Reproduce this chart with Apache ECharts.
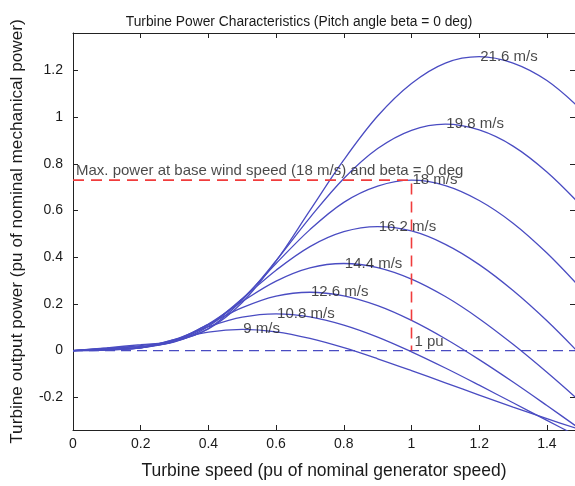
<!DOCTYPE html>
<html>
<head>
<meta charset="utf-8">
<script src="https://cdn.jsdelivr.net/npm/echarts@6/dist/echarts.min.js"></script>
<style>
html,body{margin:0;padding:0;background:#fff;}
#chart{width:575px;height:486px;}
</style>
</head>
<body>
<div id="chart"></div>
<script>
// Turbine speed (pu) sample points
var speeds = [0, 0.1, 0.2, 0.3, 0.4, 0.5, 0.6, 0.7, 0.8, 0.9, 1.0, 1.1, 1.2, 1.3, 1.4, 1.5];
// Turbine output power (pu) per wind speed
var p9    = [0, 0.0023, 0.0130, 0.0467, 0.0794, 0.0911, 0.0804, 0.0522, 0.0123, -0.0350, -0.0857, -0.1380, -0.1903, -0.2417, -0.2913, -0.3393];
var p10_8 = [0, 0.0032, 0.0116, 0.0480, 0.1021, 0.1430, 0.1574, 0.1445, 0.1091, 0.0577, -0.0053, -0.0746, -0.1481, -0.2234, -0.2989, -0.3735];
var p12_6 = [0, 0.0042, 0.0114, 0.0449, 0.1129, 0.1841, 0.2335, 0.2499, 0.2344, 0.1925, 0.1293, 0.0507, -0.0387, -0.1347, -0.2352, -0.3375];
var p14_4 = [0, 0.0054, 0.0121, 0.0408, 0.1138, 0.2105, 0.2976, 0.3542, 0.3730, 0.3554, 0.3062, 0.2314, 0.1367, 0.0269, -0.0929, -0.2198];
var p16_2 = [0, 0.0068, 0.0149, 0.0392, 0.1093, 0.2221, 0.3445, 0.4455, 0.5093, 0.5312, 0.5122, 0.4551, 0.3683, 0.2574, 0.1277, -0.0180];
var p18   = [0, 0.0084, 0.0181, 0.0373, 0.1036, 0.2222, 0.3732, 0.5181, 0.6349, 0.7043, 0.7300, 0.7066, 0.6428, 0.5457, 0.4176, 0.2671];
var p19_8 = [0, 0.0101, 0.0217, 0.0399, 0.0949, 0.2168, 0.3854, 0.5696, 0.7370, 0.8652, 0.9435, 0.9698, 0.9447, 0.8757, 0.7648, 0.6225];
var p21_6 = [0, 0.0121, 0.0255, 0.0410, 0.0930, 0.2063, 0.3839, 0.6005, 0.8165, 1.0044, 1.1439, 1.2314, 1.2590, 1.2312, 1.1563, 1.0336];

var curveNames = ['9 m/s', '10.8 m/s', '12.6 m/s', '14.4 m/s', '16.2 m/s', '18 m/s', '19.8 m/s', '21.6 m/s'];
var curves = [p9, p10_8, p12_6, p14_4, p16_2, p18, p19_8, p21_6];

// Curve label anchor points (at each curve's maximum)
var labelX = [0.5, 0.6, 0.7, 0.8, 0.9, 1.0, 1.1, 1.2];
var labelY = [0.091, 0.157, 0.25, 0.373, 0.531, 0.73, 0.97, 1.259];

// Base point: max power at base wind speed
var baseSpeed = 1.0;
var basePower = 0.73;
var zeroLineX = [0, 1.5];

// Annotations
var annText = ['Max. power at base wind speed (18 m/s) and beta = 0 deg', '1 pu'];
var annX = [0, 1.0];
var annY = [0.73, 0];

// Tick labels
var xTicks = [0, 0.2, 0.4, 0.6, 0.8, 1, 1.2, 1.4];
var yTicks = [-0.2, 0, 0.2, 0.4, 0.6, 0.8, 1, 1.2];

var BLUE = '#4a4cc2';
var RED = '#f03c3c';
var AXC = '#222';
var TXT = '#1a1a1a';
var FONT = 'Liberation Sans, Arial, sans-serif';

var chart = echarts.init(document.getElementById('chart'), null, {renderer: 'canvas'});

var series = [];
curves.forEach(function (c, i) {
  series.push({
    type: 'line', name: curveNames[i], xAxisIndex: 0, yAxisIndex: 0,
    data: speeds.map(function (s, j) { return [s, c[j]]; }),
    showSymbol: false, symbol: 'none', smooth: 0.35,
    lineStyle: {color: BLUE, width: 1.3}, z: 3, silent: true
  });
});
series.push({
  type: 'line', name: 'zero', data: [[zeroLineX[0], 0], [zeroLineX[1], 0]],
  showSymbol: false, symbol: 'none',
  lineStyle: {color: BLUE, width: 1.4, type: [10, 6]}, z: 2, silent: true
});
series.push({
  type: 'line', name: 'base', data: [[0, basePower], [baseSpeed, basePower], [baseSpeed, 0]],
  showSymbol: false, symbol: 'none',
  lineStyle: {color: RED, width: 1.6, type: [11, 7]}, z: 4, silent: true
});
series.push({
  type: 'scatter', name: 'curveLabels', symbolSize: 0,
  data: labelX.map(function (x, i) { return {value: [x, labelY[i]], name: curveNames[i]}; }),
  label: {show: true, position: 'right', distance: 1, formatter: '{b}',
    color: TXT, fontSize: 15, fontFamily: FONT},
  z: 5, silent: true
});
series.push({
  type: 'scatter', name: 'annotations', symbolSize: 0,
  data: annX.map(function (x, i) { return {value: [x, annY[i]], name: annText[i]}; }),
  label: {show: true, position: 'right', distance: 3, offset: [0, -9], formatter: '{b}',
    color: TXT, fontSize: 15, fontFamily: FONT},
  z: 5, silent: true
});

var axisLineStyle = {show: true, onZero: false, lineStyle: {color: AXC, width: 1}};

var option = {
  animation: false,
  backgroundColor: '#fff',
  title: {
    text: 'Turbine Power Characteristics (Pitch angle beta = 0 deg)',
    left: 294, top: 10, textAlign: 'center',
    textStyle: {fontSize: 13.8, fontWeight: 'normal', color: TXT, fontFamily: FONT}
  },
  grid: {left: 73, top: 33, right: 0, height: 397, show: false},
  xAxis: [{
    type: 'value', min: 0, max: 1.483, position: 'bottom',
    axisLine: axisLineStyle,
    axisTick: {show: true, inside: true, length: 5, customValues: xTicks, lineStyle: {color: AXC}},
    axisLabel: {show: true, customValues: xTicks, fontSize: 14, color: TXT, fontFamily: FONT, margin: 7},
    splitLine: {show: false},
    name: 'Turbine speed (pu of nominal generator speed)', nameLocation: 'middle', nameGap: 32,
    nameTextStyle: {fontSize: 17.5, color: TXT, fontFamily: FONT}
  }, {
    type: 'value', min: 0, max: 1.483, position: 'top',
    axisLine: axisLineStyle,
    axisTick: {show: true, inside: true, length: 5, customValues: xTicks, lineStyle: {color: AXC}},
    axisLabel: {show: false}, splitLine: {show: false}
  }],
  yAxis: [{
    type: 'value', min: -0.34, max: 1.36, position: 'left',
    axisLine: axisLineStyle,
    axisTick: {show: true, inside: true, length: 5, customValues: yTicks, lineStyle: {color: AXC}},
    axisLabel: {show: true, customValues: yTicks, fontSize: 14, color: TXT, fontFamily: FONT, margin: 10},
    splitLine: {show: false},
    name: 'Turbine output power (pu of nominal mechanical power)', nameLocation: 'middle', nameGap: 47,
    nameTextStyle: {fontSize: 17.2, color: TXT, fontFamily: FONT}
  }, {
    type: 'value', min: -0.34, max: 1.36, position: 'right',
    axisLine: axisLineStyle,
    axisTick: {show: true, inside: true, length: 5, customValues: yTicks, lineStyle: {color: AXC}},
    axisLabel: {show: false}, splitLine: {show: false}
  }],
  series: series
};
chart.setOption(option);
</script>
</body>
</html>
